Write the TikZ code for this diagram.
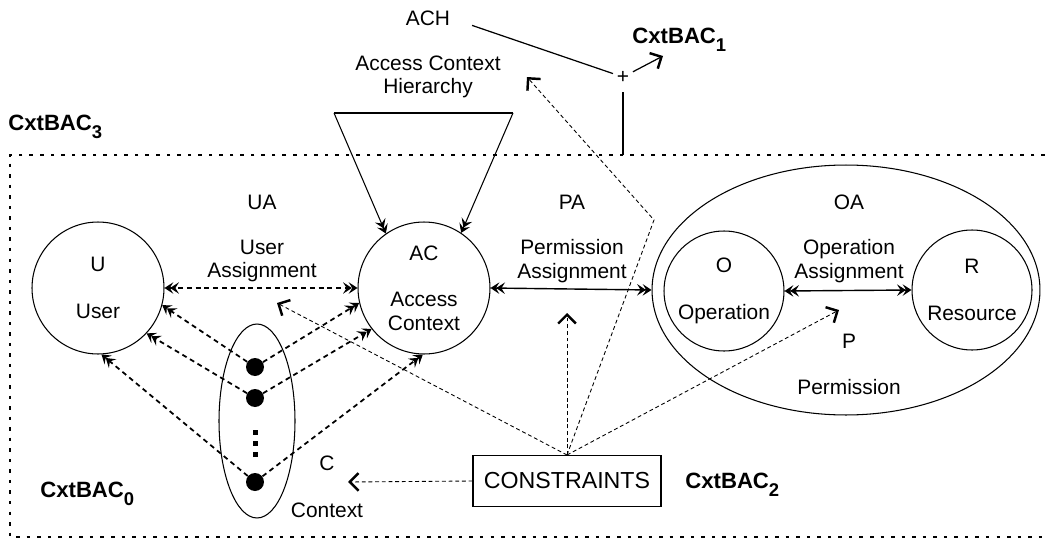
\documentclass[tikz,border=0pt]{standalone}
\usepackage{fontspec}
\setmainfont{Liberation Sans}
\usepackage{tikz}
\usetikzlibrary{
	positioning,
	calc,
	arrows.meta,
	shapes.geometric
}

\newcommand{\cxtbac}[1]{\bfseries CxtBAC\raisebox{-5pt}{\fontsize{10.5}{10.5}\selectfont\bfseries #1}}

\begin{document}
\begin{tikzpicture}[
	x=0.02cm, y=-0.02cm,
	ctip/.tip={Stealth[length=5pt,width=6.5pt,inset=2pt,sep=-1.8pt]Stealth[length=5pt,width=6.5pt,inset=2pt]},
	copen/.tip={Straight Barb[length=5pt,width=10pt,line width=1.4pt]},
	c_text/.style={
		font=\fontsize{11.9}{13.2}\selectfont,
		align=center,
		inner sep=0pt
	},
	c_title/.style={
		font=\fontsize{12.6}{14}\selectfont\bfseries,
		inner sep=0pt
	},
	c_circle/.style={
		draw, circle,
		line width=0.6pt,
		inner sep=0pt,
		align=center,
		font=\fontsize{11.9}{13.2}\selectfont
	},
	c_oval/.style={
		draw, ellipse,
		line width=0.6pt,
		inner sep=0pt
	},
	c_dot/.style={
		circle, fill=black,
		inner sep=0pt,
		minimum size=0.36cm
	},
	c_assign/.style={
		line width=1pt,
		dash pattern=on 2.8pt off 2.2pt,
		ctip-ctip
	},
	c_solid/.style={
		line width=0.8pt,
		ctip-ctip
	},
	c_member/.style={
		line width=1pt,
		dash pattern=on 2.8pt off 2.2pt,
		-ctip
	},
	c_cons/.style={
		line width=0.5pt,
		dash pattern=on 2.2pt off 1.6pt,
		-copen
	},
	c_frame/.style={
		line width=0.9pt,
		dash pattern=on 2pt off 4pt
	}
	]

	\useasboundingbox (0,0) rectangle (1045,541);

	% =========================================================================
	% FRAME (CxtBAC3)
	% =========================================================================

	\coordinate (f_tl) at (10,155);
	\coordinate (f_tr) at (1045,155);
	\coordinate (f_bl) at (10,537);
	\coordinate (f_br) at (1045,537);

	\draw[c_frame] (f_tr) -- (f_tl) -- (f_bl) -- (f_br);

	\node[c_title, anchor=base west] (B3) at (8,130) {\cxtbac{3}};

	% =========================================================================
	% ENTITIES
	% =========================================================================

	\node[c_circle, minimum size=2.64cm] (U) at (98,288) {U\\[13.4pt]User};
	\node[c_circle, minimum size=2.64cm] (AC) at (424,288) {AC\\[13.4pt]Access\\Context};

	\node[c_oval, minimum width=7.76cm, minimum height=5cm] (OA) at (846,290) {};
	\node[c_circle, minimum size=2.4cm] (O) at (724,291) {O\\[13.4pt]Operation};
	\node[c_circle, minimum size=2.4cm] (R) at (972,290) {R\\[13.4pt]Resource};

	% Context set
	\node[c_oval, minimum width=1.52cm, minimum height=3.88cm] (C) at (257,421) {};

	\node[c_dot] (d1) at (255,367) {};
	\node[c_dot] (d2) at (255,398) {};
	\node[c_dot] (d3) at (255,482) {};

	\foreach \y in {432,443,454}
	{
		\fill (252.5,\y-2.5) rectangle ++(5,5);
	}

	% =========================================================================
	% LABELS
	% =========================================================================

	\node[c_text] (UA) at (262,202) {UA};
	\node[c_text] (UA_txt) at (262,261) {User\\Assignment};

	\node[c_text] (PA) at (572,202) {PA};
	\node[c_text] (PA_txt) at (572,261) {Permission\\Assignment};

	\node[c_text] (OA_lbl) at (849,202) {OA};
	\node[c_text] (OA_txt) at (849,261) {Operation\\Assignment};

	\node[c_text] (P_lbl) at (849,341) {P};
	\node[c_text] (P_txt) at (849,387) {Permission};

	\node[c_text] (C_lbl) at (327,463) {C};
	\node[c_text] (C_txt) at (327,510) {Context};

	\node[c_text] (ACH) at (428,18) {ACH};
	\node[c_text] (ACH_txt) at (428,77) {Access Context\\Hierarchy};

	\node[c_title, anchor=base west] (B0) at (40,497) {\cxtbac{0}};
	\node[c_title, anchor=base west] (B1) at (632,43) {\cxtbac{1}};
	\node[c_title, anchor=base west] (B2) at (685,488) {\cxtbac{2}};

	\node[draw, line width=0.6pt, minimum width=3.76cm, minimum height=1.02cm,
	inner sep=0pt, font=\fontsize{13.2}{15}\selectfont]
	(CON) at (567,481) {CONSTRAINTS};

	% =========================================================================
	% ASSIGNMENTS
	% =========================================================================

	\draw[c_assign] (U.east) -- (AC.west);
	\draw[c_solid] (AC.east) -- (OA.west);
	\draw[c_solid] (O.east) -- (R.west);

	% Context members
	\foreach \d/\u/\a in {d1/-15/193, d2/-43/218, d3/-87/269}
	{
		\draw[c_member] (\d) -- (U.\u);
		\draw[c_member] (\d) -- (AC.\a);
	}

	% Hierarchy
	\coordinate (h_l) at (334,113);
	\coordinate (h_r) at (513,113);

	\draw[line width=0.6pt] (h_l) -- (h_r);
	\draw[line width=0.6pt, -ctip] (h_l) -- (AC.125);
	\draw[line width=0.6pt, -ctip] (h_r) -- (AC.56);

	% =========================================================================
	% CONSTRAINTS
	% =========================================================================

	\coordinate (t_c) at (348,482);
	\coordinate (t_ua) at (277,303);
	\coordinate (t_pa) at (567,313);
	\coordinate (t_p) at (839,310);
	\coordinate (t_bend) at (654,220);
	\coordinate (t_ach) at (527,77);

	\draw[c_cons] (CON.west) -- (t_c);
	\draw[c_cons] (CON.north) -- (t_ua);
	\draw[c_cons] (CON.north) -- (t_pa);
	\draw[c_cons] (CON.north) -- (t_p);
	\draw[c_cons] (CON.north) -- (t_bend) -- (t_ach);

	% =========================================================================
	% ACH + CxtBAC1
	% =========================================================================

	\node[c_text, inner sep=2pt] (plus) at (623,77) {+};
	\coordinate (t_b1) at (663,56);

	\draw[line width=0.7pt, shorten <=13pt] (ACH.east) -- (plus);
	\draw[line width=0.7pt, shorten <=3pt] (plus) -- (plus |- f_tl);
	\draw[line width=0.7pt, -copen] (plus) -- (t_b1);

\end{tikzpicture}
\end{document}
